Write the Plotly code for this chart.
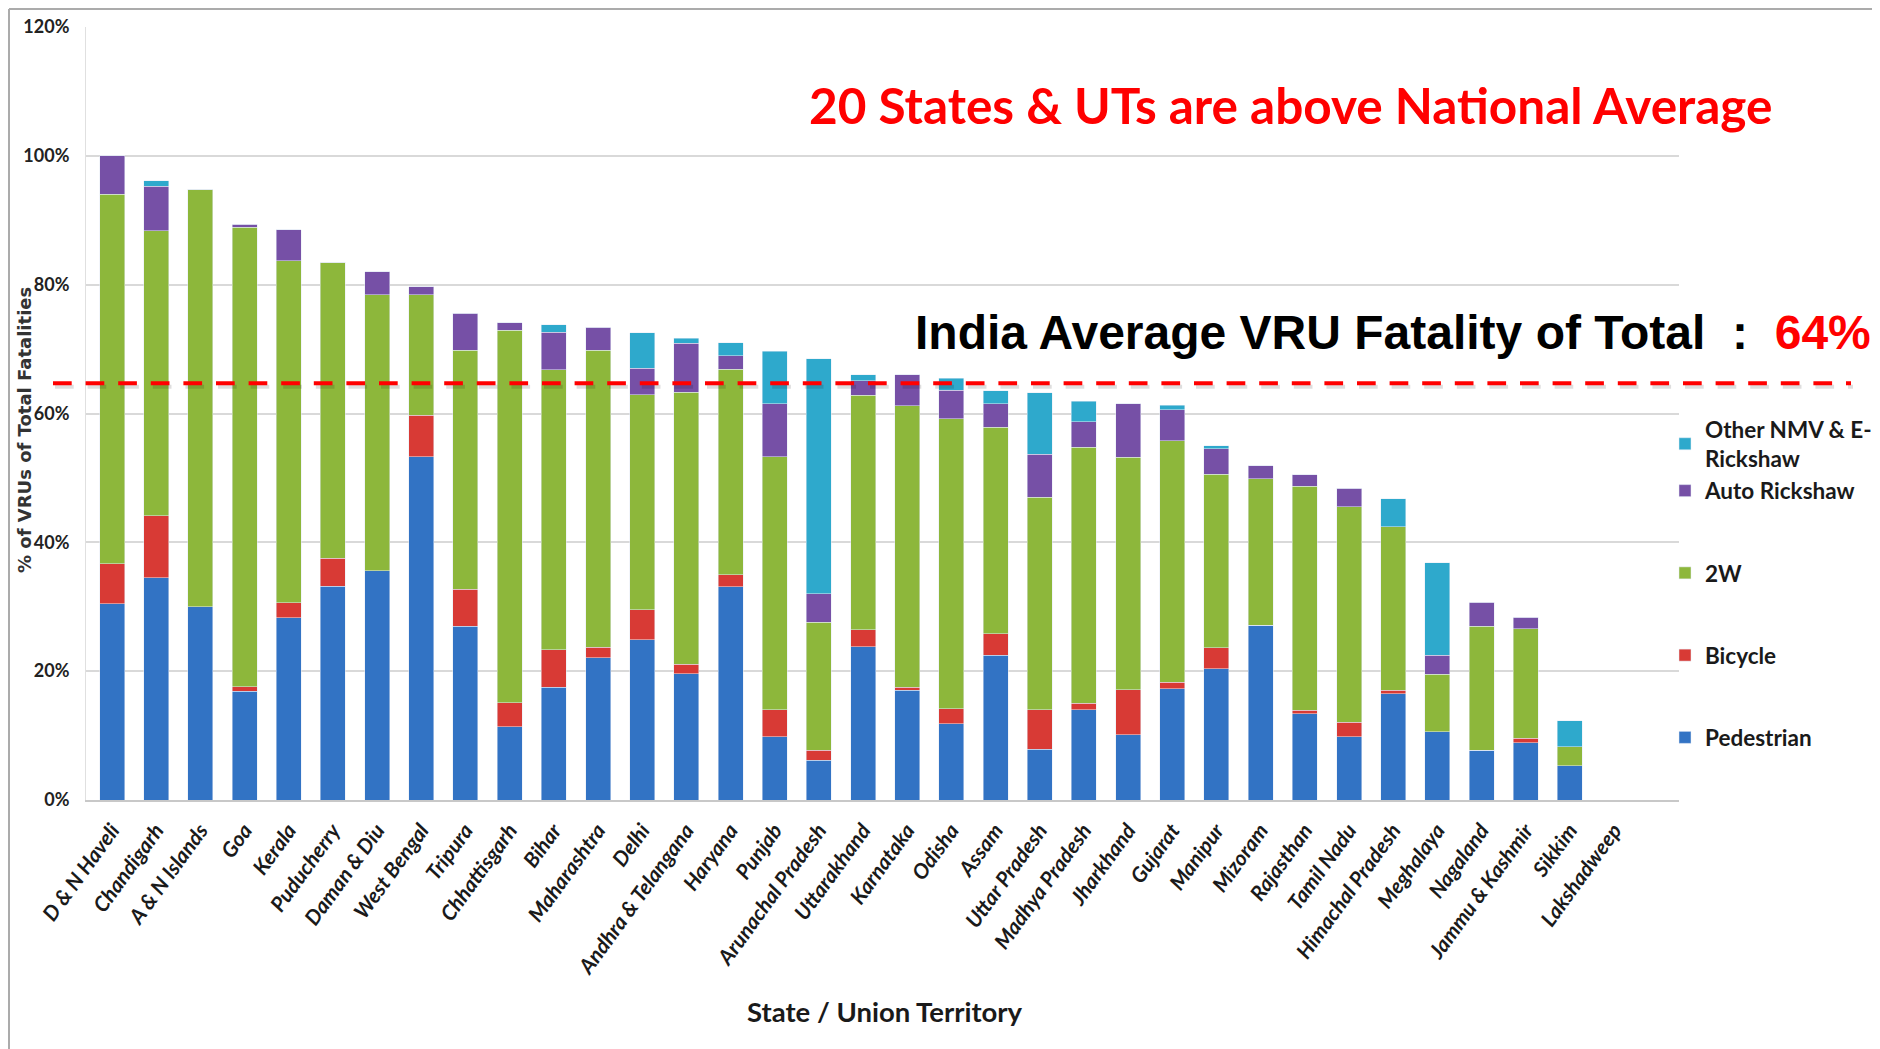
import plotly.graph_objects as go

states = ["D & N Haveli", "Chandigarh", "A & N Islands", "Goa", "Kerala", "Puducherry",
          "Daman & Diu", "West Bengal", "Tripura", "Chhattisgarh", "Bihar", "Maharashtra",
          "Delhi", "Andhra & Telangana", "Haryana", "Punjab", "Arunachal Pradesh",
          "Uttarakhand", "Karnataka", "Odisha", "Assam", "Uttar Pradesh", "Madhya Pradesh",
          "Jharkhand", "Gujarat", "Manipur", "Mizoram", "Rajasthan", "Tamil Nadu",
          "Himachal Pradesh", "Meghalaya", "Nagaland", "Jammu & Kashmir", "Sikkim",
          "Lakshadweep"]

pedestrian = [30.5, 34.5, 30.0, 16.9, 28.3, 33.2, 35.6, 53.3, 27.0, 11.4, 17.5, 22.1,
              24.9, 19.6, 33.1, 9.8, 6.2, 23.8, 17.0, 11.8, 22.5, 7.9, 14.0, 10.1, 17.3,
              20.4, 27.1, 13.4, 9.8, 16.5, 10.6, 7.7, 8.9, 5.3, 0]
bicycle = [6.2, 9.6, 0, 0.7, 2.3, 4.3, 0, 6.4, 5.7, 3.7, 5.8, 1.6, 4.6, 1.5, 1.9, 4.2,
           1.5, 2.6, 0.5, 2.4, 3.3, 6.1, 1.0, 7.0, 1.0, 3.2, 0, 0.5, 2.3, 0.5, 0, 0,
           0.7, 0, 0]
two_wheeler = [57.3, 44.3, 64.8, 71.3, 53.1, 46.0, 42.8, 18.7, 37.1, 57.8, 43.5, 46.1,
               33.4, 42.2, 31.9, 39.3, 19.9, 36.4, 43.7, 45.0, 32.1, 33.0, 39.8, 36.1,
               37.5, 27.0, 22.8, 34.8, 33.4, 25.4, 8.9, 19.3, 17.0, 3.0, 0]
auto_rickshaw = [6.0, 6.9, 0, 0.5, 4.8, 0, 3.6, 1.3, 5.8, 1.2, 5.8, 3.6, 4.1, 7.6, 2.1,
                 8.2, 4.4, 2.3, 4.8, 4.4, 3.6, 6.7, 3.9, 8.3, 4.8, 3.9, 2.0, 1.8, 2.9,
                 0, 3.0, 3.7, 1.8, 0, 0]
other_nmv = [0, 0.8, 0, 0, 0, 0, 0, 0, 0, 0, 1.2, 0, 5.5, 0.8, 2.0, 8.2, 36.5, 0.9, 0,
             1.9, 2.0, 9.5, 3.2, 0, 0.7, 0.5, 0, 0, 0, 4.4, 14.3, 0, 0, 4.0, 0]

y_ticks = [0, 20, 40, 60, 80, 100, 120]
y_tick_text = ["0%", "20%", "40%", "60%", "80%", "100%", "120%"]
national_avg_line = 64.7

# (name, values, colour, legend group, legend rank)
series = [
    ("Pedestrian", pedestrian, "#3273C4", "g1", 5),
    ("Bicycle", bicycle, "#D83A35", "g2", 4),
    ("2W", two_wheeler, "#8DB73B", "g3", 3),
    ("Auto Rickshaw", auto_rickshaw, "#7650A6", "g4", 2),
    ("Other NMV & E-<br>Rickshaw", other_nmv, "#2EA9CC", "g4", 1),
]

SANS = "Lato, Open Sans, sans-serif"

fig = go.Figure()
for name, vals, color, grp, rank in series:
    fig.add_trace(go.Bar(x=states, y=vals, name=name, marker_color=color,
                         legendgroup=grp, legendrank=rank))

# the page adds an 8px body margin; the figure is sized to fill the rest
OFF = 8
W, H = 1880 - OFF, 1049 - OFF
L, R, T, B = 86 - OFF, 201, 27 - OFF, 249
pw = W - L - R
ph = H - T - B


def px_x(x):
    """reference page x pixel -> paper coordinate"""
    return (x - OFF - L) / pw


def px_y(y):
    """reference page y pixel -> paper coordinate"""
    return (H - B - (y - OFF)) / ph


fig.update_layout(
    width=W, height=H,
    barmode="stack", bargap=0.434,
    margin=dict(l=L, r=R, t=T, b=B, autoexpand=False),
    paper_bgcolor="white", plot_bgcolor="white",
    showlegend=True,
    legend=dict(
        x=px_x(1665), y=px_y(408), xanchor="left", yanchor="top",
        traceorder="grouped", tracegroupgap=50,
        bgcolor="rgba(0,0,0,0)",
        font=dict(family=SANS, size=22.5, color="#1a1a1a", weight="bold"),
    ),
    xaxis=dict(
        range=[-0.59, 35.47],
        tickangle=-54,
        tickfont=dict(family=SANS, size=21, color="#1a1a1a", weight="bold",
                      style="italic"),
        showgrid=False, showline=True, linecolor="#C8C8C8", linewidth=1.5,
        ticks="", automargin=False, ticklabelstandoff=8,
    ),
    yaxis=dict(
        range=[0, 120], tickvals=y_ticks, ticktext=y_tick_text,
        tickfont=dict(family=SANS, size=18, color="#222222", weight="bold"),
        showgrid=True, gridcolor="#D9D9D9", gridwidth=1.5,
        showline=True, linecolor="#E0E0E0", linewidth=1,
        zeroline=False, ticklabelstandoff=12, automargin=False,
    ),
)

# national average dashed line (with soft shadow)
fig.add_shape(type="line", xref="paper", yref="y",
              x0=px_x(55), x1=px_x(1853), y0=national_avg_line - 0.55,
              y1=national_avg_line - 0.55,
              line=dict(color="rgba(0,0,0,0.13)", width=4, dash="18.7px,13.9px"))
fig.add_shape(type="line", xref="paper", yref="y",
              x0=px_x(53), x1=px_x(1851), y0=national_avg_line, y1=national_avg_line,
              line=dict(color="#FF0000", width=4, dash="18.7px,13.9px"))

# slide frame
fig.add_shape(type="line", xref="paper", yref="paper",
              x0=px_x(9), x1=px_x(1880), y0=px_y(9), y1=px_y(9),
              line=dict(color="#ABABAB", width=2))
fig.add_shape(type="line", xref="paper", yref="paper",
              x0=px_x(9), x1=px_x(9), y0=px_y(9), y1=px_y(1049),
              line=dict(color="#ABABAB", width=2))

fig.add_annotation(
    xref="paper", yref="paper", x=px_x(1290), y=px_y(105),
    xanchor="center", yanchor="middle", showarrow=False,
    text="20 States &amp; UTs are above National Average",
    font=dict(family=SANS, size=49.5, color="#FF0000", weight="bold"),
)
fig.add_annotation(
    xref="paper", yref="paper", x=px_x(1393), y=px_y(333),
    xanchor="center", yanchor="middle", showarrow=False,
    text="India Average VRU Fatality of Total&nbsp;&nbsp;:&nbsp;&nbsp;"
         "<span style='color:#FF0000'>64%</span>",
    font=dict(family="Liberation Sans, Arial, sans-serif", size=48, color="#000000",
              weight="bold"),
)
fig.add_annotation(
    xref="paper", yref="paper", x=px_x(24), y=px_y(430),
    xanchor="center", yanchor="middle", showarrow=False, textangle=-90,
    text="% of VRUs of Total Fatalities",
    font=dict(family="DejaVu Sans, sans-serif", size=18, color="#333333",
              weight="bold"),
)
fig.add_annotation(
    xref="paper", yref="paper", x=px_x(885), y=px_y(1011),
    xanchor="center", yanchor="middle", showarrow=False,
    text="State / Union Territory",
    font=dict(family=SANS, size=27.5, color="#1a1a1a", weight="bold"),
)

fig.write_html("out.html")
